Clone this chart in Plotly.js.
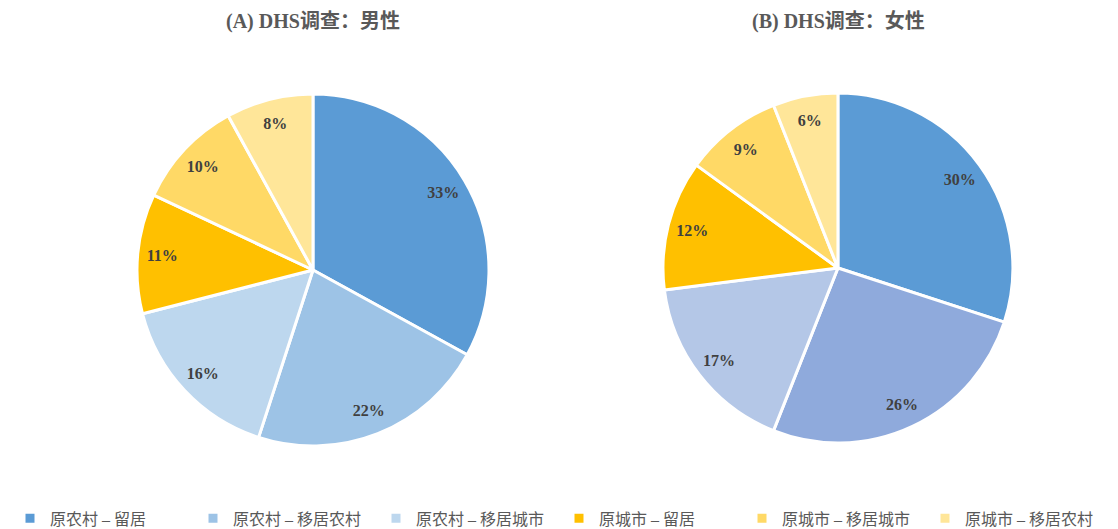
<!DOCTYPE html>
<html><head><meta charset="utf-8">
<script src="https://cdn.plot.ly/plotly-3.0.1.min.js"></script>
<style>html,body{margin:0;padding:0;background:#fff}#chart{width:1118px;height:529px}</style>
</head><body><div id="chart"></div>
<script>
const categories = ["原农村 – 留居","原农村 – 移居农村","原农村 – 移居城市","原城市 – 留居","原城市 – 移居城市","原城市 – 移居农村"];
const maleValues = [33,22,16,11,10,8];
const femaleValues = [30,26,17,12,9,6];
const maleColors = ["#5B9BD5","#9DC3E6","#BDD7EE","#FFC000","#FFD966","#FFE699"];
const femaleColors = ["#5B9BD5","#8FAADC","#B4C7E7","#FFC000","#FFD966","#FFE699"];
const titles = ["(A) DHS调查：男性","(B) DHS调查：女性"];

const txtFont = {family:"'Liberation Serif','Times New Roman',serif", size:16, color:"#404040", weight:"bold"};
function pie(values, colors, dom){
  return {type:"pie", labels:categories, values:values, sort:false, direction:"clockwise", rotation:0,
    marker:{colors:colors, line:{color:"#ffffff", width:3}},
    textinfo:"none", domain:dom, hoverinfo:"label+value"};
}
function labelRing(values, dom){
  return {type:"pie", labels:categories, values:values, sort:false, direction:"clockwise", rotation:0,
    hole:0.72, showlegend:false,
    marker:{colors:categories.map(()=>"rgba(0,0,0,0)"), line:{width:0}},
    texttemplate:"<b>%{value}%</b>", textposition:"inside", insidetextorientation:"horizontal",
    textfont:txtFont, domain:dom, hoverinfo:"skip"};
}
const domA = {x:[0.1225,0.4374], y:[0.1569,0.8223]};
const domB = {x:[0.593,0.906], y:[0.1626,0.8242]};
const data = [
  pie(maleValues, maleColors, domA),
  pie(femaleValues, femaleColors, domB),
  labelRing(maleValues, domA),
  labelRing(femaleValues, domB)
];
const titleFont = {family:"'Liberation Serif','Noto Sans CJK SC',serif", size:20, color:"#595959", weight:"bold"};
const layout = {
  width:1118, height:529, margin:{l:0,r:0,t:0,b:0, autoexpand:false}, paper_bgcolor:"#fff",
  showlegend:true,
  legend:{orientation:"h", x:0.5, xanchor:"center", y:0.02, yanchor:"middle",
    font:{family:"'Liberation Serif','Noto Sans CJK SC',serif", size:16, color:"#595959"},
    itemwidth:30, traceorder:"normal", entrywidth:138},
  annotations:[
    {text:"<b>"+titles[0]+"</b>", x:313/1118, y:1-22/529, xref:"paper", yref:"paper", showarrow:false, font:titleFont, xanchor:"center", yanchor:"middle"},
    {text:"<b>"+titles[1]+"</b>", x:838/1118, y:1-21/529, xref:"paper", yref:"paper", showarrow:false, font:titleFont, xanchor:"center", yanchor:"middle"}
  ]
};
Plotly.newPlot("chart", data, layout, {displayModeBar:false, staticPlot:true});
</script></body></html>
